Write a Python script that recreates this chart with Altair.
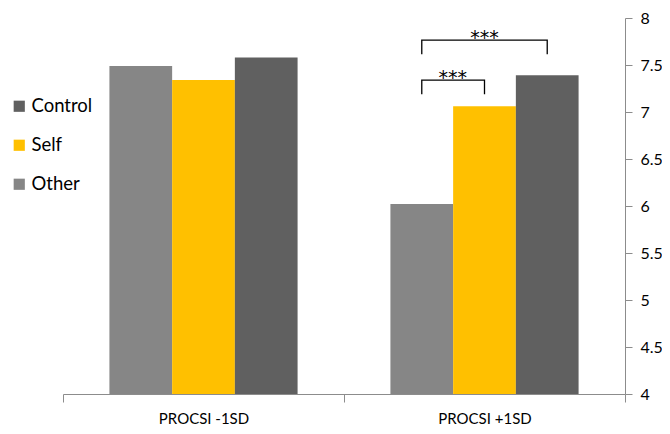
import altair as alt
import pandas as pd

groups = ["PROCSI -1SD", "PROCSI +1SD"]
series = ["Other", "Self", "Control"]
other_vals = [7.49, 6.02]
self_vals = [7.34, 7.06]
control_vals = [7.58, 7.39]

legend_order = ["Control", "Self", "Other"]
legend_colors = ["#606060", "#FFC000", "#868686"]

y_ticks = [4, 4.5, 5, 5.5, 6, 6.5, 7, 7.5, 8]

# significance brackets (group, from series, to series, top level, leg bottom)
bracket_group = "PROCSI +1SD"
bracket_from = ["Other", "Other"]
bracket_to = ["Control", "Self"]
bracket_top = [7.765, 7.34]
bracket_leg = [7.615, 7.19]
star_label = "***"
star_y = [7.72, 7.30]

rows = []
for i, g in enumerate(groups):
    for s, vals in zip(series, [other_vals, self_vals, control_vals]):
        rows.append({"group": g, "series": s, "value": vals[i]})
df = pd.DataFrame(rows)

brows = []
for b in range(len(bracket_from)):
    pts = [(bracket_from[b], bracket_leg[b]), (bracket_from[b], bracket_top[b]),
           (bracket_to[b], bracket_top[b]), (bracket_to[b], bracket_leg[b])]
    for k, (s, v) in enumerate(pts):
        brows.append({"group": bracket_group, "series": s, "value": v, "id": b, "ord": k})
bdf = pd.DataFrame(brows)

tdf_top = pd.DataFrame([{"group": bracket_group, "series": "Self", "value": star_y[0], "t": star_label}])
tdf_low = pd.DataFrame([{"group": bracket_group, "series": "Other", "value": star_y[1], "t": star_label}])

FONT = "Lato"
xscale = alt.Scale(domain=groups, paddingInner=0, paddingOuter=0)
oscale = alt.Scale(domain=series, paddingInner=0, paddingOuter=0.74)
yscale = alt.Scale(domain=[4, 8], zero=False, nice=False)

x_enc = alt.X("group:N", scale=xscale, sort=groups,
              axis=alt.Axis(title=None, labelAngle=0, labelFontSize=15, labelFont=FONT,
                            labelColor="#000000", domainColor="#8c8c8c", tickColor="#8c8c8c",
                            tickSize=8, tickBand="extent", labelPadding=9))
o_enc = alt.XOffset("series:N", scale=oscale, sort=series)
y_enc = alt.Y("value:Q", scale=yscale,
              axis=alt.Axis(orient="right", title=None, values=y_ticks, format="~g",
                            labelFontSize=16, labelFont=FONT, labelColor="#000000",
                            domainColor="#8c8c8c", tickColor="#8c8c8c", tickSize=7,
                            labelPadding=8, grid=False))

bars = alt.Chart(df).mark_bar().encode(
    x=x_enc, xOffset=o_enc, y=y_enc, y2=alt.datum(4),
    color=alt.Color("series:N", scale=alt.Scale(domain=legend_order, range=legend_colors),
                    legend=alt.Legend(title=None, orient="none", legendX=-53, legendY=79,
                                      symbolType="square", symbolSize=125, symbolStrokeWidth=0,
                                      labelFontSize=18.5, labelFont=FONT, labelColor="#000000",
                                      rowPadding=20, labelOffset=3)),
)

lines = alt.Chart(bdf).mark_line(color="#000000", strokeWidth=1.3).encode(
    x=alt.X("group:N", scale=xscale, sort=groups), xOffset=o_enc,
    y=alt.Y("value:Q", scale=yscale), detail="id:N", order="ord:Q",
)

text_top = alt.Chart(tdf_top).mark_text(fontSize=19, font="DejaVu Sans", baseline="alphabetic", color="#000000").encode(
    x=alt.X("group:N", scale=xscale, sort=groups), xOffset=o_enc,
    y=alt.Y("value:Q", scale=yscale), text="t:N",
)
text_low = alt.Chart(tdf_low).mark_text(fontSize=19, font="DejaVu Sans", baseline="alphabetic", color="#000000", dx=31).encode(
    x=alt.X("group:N", scale=xscale, sort=groups), xOffset=o_enc,
    y=alt.Y("value:Q", scale=yscale), text="t:N",
)

chart = alt.layer(bars, lines, text_top, text_low).properties(
    width=562, height=376,
    autosize=alt.AutoSizeParams(type="none"),
    padding={"left": 55, "top": 10, "right": 37, "bottom": 32},
).configure_view(stroke=None)

chart.save("out.html", embed_options={"renderer": "svg", "actions": False})
